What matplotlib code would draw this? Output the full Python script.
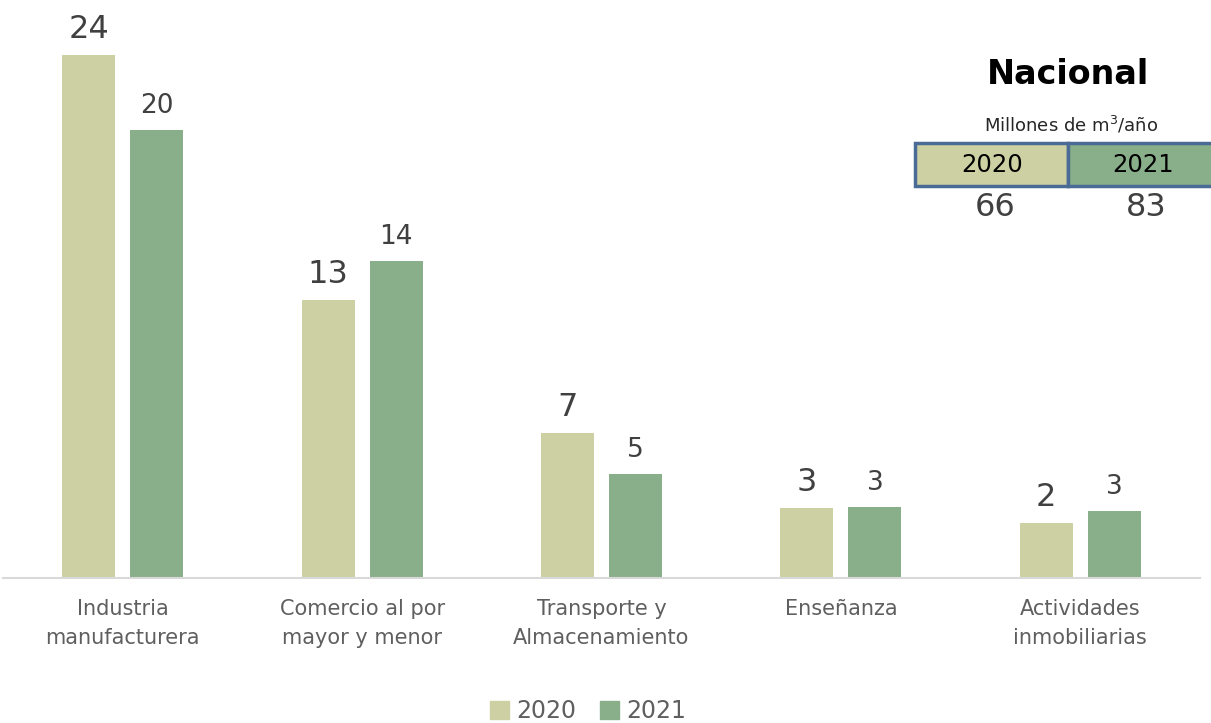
import numpy as np
import matplotlib.pyplot as plt
from matplotlib.patches import Rectangle, Patch

# Data (millions of m3/year)
categories = ["Industria\nmanufacturera", "Comercio al por\nmayor y menor",
              "Transporte y\nAlmacenamiento", "Enseñanza", "Actividades\ninmobiliarias"]
years = ["2020", "2021"]
values_2020 = [23.6, 12.55, 6.54, 3.16, 2.48]
values_2021 = [20.2, 14.3, 4.69, 3.2, 3.02]
totals = [66, 83]

col_2020 = "#CDD0A3"
col_2021 = "#89AE8A"
text_col = "#5F5F5F"

plt.rcParams["font.family"] = ["DejaVu Sans"]

fig = plt.figure(figsize=(12.11, 7.23), dpi=100)
ax = fig.add_axes([3 / 1211, 145 / 723, 1197 / 1211, 578 / 723])

x = np.arange(len(categories))
w = 0.222
off = 0.142
b1 = ax.bar(x - off, values_2020, w, color=col_2020)
b2 = ax.bar(x + off, values_2021, w, color=col_2021)

ax.bar_label(b1, fmt="%.0f", padding=7, fontsize=23, color="#404040")
ax.bar_label(b2, fmt="%.0f", padding=8, fontsize=19, color="#404040")

ax.set_xlim(-0.5, 4.5)
ax.set_ylim(0, 26.08)
ax.set_xticks(x)
ax.set_xticklabels(categories, fontsize=15, color=text_col, linespacing=1.55)
ax.tick_params(axis="x", length=0, pad=15)
ax.set_yticks([])
for s in ["top", "left", "right"]:
    ax.spines[s].set_visible(False)
ax.spines["bottom"].set_color("#D9D9D9")
ax.spines["bottom"].set_linewidth(1.5)
ax.patch.set_alpha(0)

# "Nacional" summary box
fig.text(1068 / 1211, 1 - 75 / 723, "Nacional", ha="center", va="center",
         fontsize=24, fontweight="bold", color="black")
fig.text(1071 / 1211, 1 - 125 / 723, "Millones de m$^3$/año", ha="center", va="center",
         fontsize=13, color="#262626")
box_y0 = 1 - 186 / 723
box_h = 43 / 723
cells = [(915, 1068, col_2020), (1068, 1225, col_2021)]
for x0, x1, c in cells:
    fig.add_artist(Rectangle((x0 / 1211, box_y0), (x1 - x0) / 1211, box_h,
                             transform=fig.transFigure, facecolor=c,
                             edgecolor="#4A6B96", linewidth=2.5, clip_on=False))
cx = [992 / 1211, 1143 / 1211]
for xc, yr, tot in zip(cx, years, totals):
    fig.text(xc, 1 - 165 / 723, yr, ha="center", va="center", fontsize=17.5, color="black")
    fig.text(xc + 3 / 1211, 1 - 208 / 723, str(tot), ha="center", va="center",
             fontsize=23, color="#404040")

# legend
handles = [Patch(color=col_2020), Patch(color=col_2021)]
fig.legend(handles, years, loc="center", bbox_to_anchor=(588 / 1211, 1 - 711 / 723),
           ncol=2, frameon=False, fontsize=17, labelcolor=text_col,
           handlelength=0.8, handleheight=0.8, handletextpad=0.3, columnspacing=1.0)

fig.savefig("out.png", dpi=100)
